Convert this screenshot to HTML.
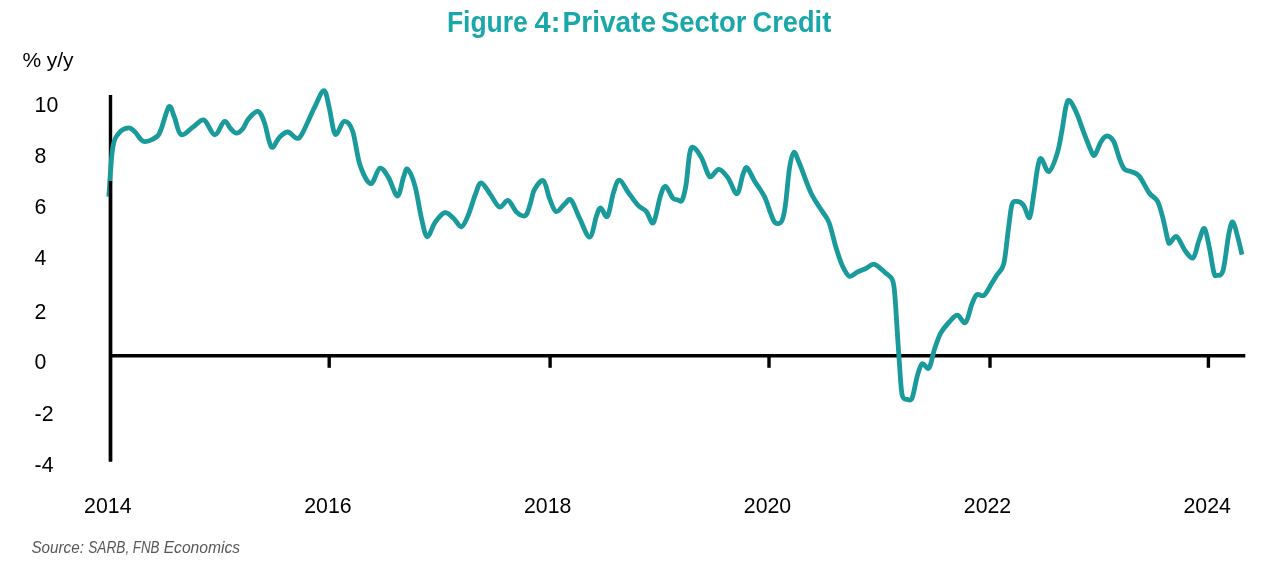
<!DOCTYPE html>
<html><head><meta charset="utf-8">
<style>
html,body{margin:0;padding:0;background:#fff;width:1280px;height:565px;overflow:hidden}
svg{display:block;will-change:transform}
text{font-family:"Liberation Sans",sans-serif}
</style></head>
<body>
<svg width="1280" height="565" viewBox="0 0 1280 565">
<rect width="1280" height="565" fill="#fff"/>
<g font-size="28.8" font-weight="bold" fill="#1aa7a9" lengthAdjust="spacingAndGlyphs">
<text x="446.9" y="31.6" textLength="80.9" lengthAdjust="spacingAndGlyphs">Figure</text>
<text x="534.5" y="31.6" textLength="25.8" lengthAdjust="spacingAndGlyphs">4:</text>
<text x="562.6" y="31.6" textLength="93.4" lengthAdjust="spacingAndGlyphs">Private</text>
<text x="661.0" y="31.6" textLength="85.3" lengthAdjust="spacingAndGlyphs">Sector</text>
<text x="752.6" y="31.6" textLength="78.6" lengthAdjust="spacingAndGlyphs">Credit</text>
</g>
<text x="22.5" y="66.9" font-size="21" fill="#000" textLength="51" lengthAdjust="spacing">% y/y</text>
<g font-size="21.3" fill="#000">
<text x="34.6" y="111.7">10</text>
<text x="34.6" y="162.5">8</text>
<text x="34.6" y="213.5">6</text>
<text x="34.6" y="264.8">4</text>
<text x="34.6" y="318.9">2</text>
<text x="34.6" y="369.3">0</text>
<text x="34.6" y="420.7">-2</text>
<text x="34.6" y="471.9">-4</text>
</g>
<g font-size="21.3" fill="#000" text-anchor="middle">
<text x="107.8" y="512.6">2014</text>
<text x="327.9" y="512.6">2016</text>
<text x="547.7" y="512.6">2018</text>
<text x="767.5" y="512.6">2020</text>
<text x="987.5" y="512.6">2022</text>
<text x="1207.2" y="512.6">2024</text>
</g>
<g stroke="#000" stroke-width="3.4" fill="none">
<line x1="110.5" y1="95" x2="110.5" y2="461.5"/>
<line x1="110.5" y1="355.75" x2="1245.3" y2="355.75"/>
<line x1="329.2" y1="355.7" x2="329.2" y2="367.8"/>
<line x1="550.1" y1="355.7" x2="550.1" y2="367.8"/>
<line x1="769.0" y1="355.7" x2="769.0" y2="367.8"/>
<line x1="990.0" y1="355.7" x2="990.0" y2="367.8"/>
<line x1="1208.4" y1="355.7" x2="1208.4" y2="367.8"/>
</g>
<path d="M108.8,196.8 C109.5,188.7 111.0,158.6 112.7,148.0 C114.4,137.4 116.3,136.4 119.0,133.0 C121.7,129.6 126.0,128.0 128.7,127.8 C131.4,127.6 132.4,129.7 135.0,132.0 C137.6,134.3 140.3,140.8 144.0,141.5 C147.7,142.2 154.1,138.8 157.0,136.5 C159.9,134.2 159.6,132.8 161.6,127.8 C163.6,122.8 166.9,108.4 169.0,106.6 C171.1,104.8 172.4,112.3 174.4,117.0 C176.4,121.7 177.8,132.9 181.0,134.5 C184.2,136.1 189.7,129.1 193.5,126.7 C197.3,124.3 200.5,118.7 204.0,120.0 C207.5,121.3 211.3,134.6 214.7,134.8 C218.1,135.0 221.7,122.5 224.3,121.4 C226.9,120.4 228.5,126.5 230.5,128.5 C232.5,130.5 234.4,133.2 236.5,133.2 C238.6,133.2 241.0,130.9 243.0,128.5 C245.0,126.1 246.0,121.6 248.5,118.8 C251.0,116.0 255.3,110.8 258.0,111.4 C260.6,112.0 262.2,116.6 264.4,122.5 C266.6,128.4 268.9,144.5 271.4,147.0 C273.9,149.5 276.6,139.9 279.3,137.4 C282.0,134.9 284.9,131.9 287.8,132.0 C290.7,132.1 294.1,137.9 296.5,138.2 C298.9,138.5 299.0,139.1 302.0,134.0 C305.0,128.9 310.8,114.8 314.4,107.6 C318.0,100.4 321.4,90.6 323.9,90.6 C326.4,90.6 327.3,100.3 329.2,107.6 C331.1,114.9 332.7,131.9 335.2,134.2 C337.7,136.5 341.2,121.9 344.1,121.4 C347.0,120.9 350.0,123.7 352.6,131.0 C355.2,138.3 357.0,156.2 360.0,165.0 C363.0,173.8 367.4,183.2 370.7,183.7 C374.0,184.2 376.8,169.2 379.8,168.2 C382.8,167.2 385.6,173.0 388.5,177.6 C391.4,182.2 395.0,196.0 397.5,196.0 C400.0,196.0 401.7,182.1 403.4,177.6 C405.1,173.1 405.7,167.7 407.6,169.1 C409.5,170.5 412.7,177.9 415.0,186.1 C417.3,194.2 419.4,209.6 421.4,218.0 C423.4,226.4 424.9,236.0 427.2,236.7 C429.5,237.4 432.3,226.2 435.2,222.2 C438.1,218.2 441.8,213.4 444.8,212.7 C447.8,212.0 450.5,215.7 453.3,218.0 C456.1,220.3 459.0,227.4 461.5,226.8 C464.0,226.2 466.2,220.0 468.5,214.5 C470.8,209.0 473.4,199.2 475.5,194.0 C477.6,188.8 478.7,182.9 481.2,183.0 C483.7,183.1 487.5,190.6 490.5,194.6 C493.5,198.6 496.4,206.0 499.4,207.0 C502.3,208.0 505.4,199.7 508.2,200.5 C511.0,201.3 513.5,209.0 516.0,211.6 C518.5,214.2 521.5,215.7 523.3,216.0 C525.1,216.3 525.8,215.7 527.0,213.5 C528.2,211.3 529.2,207.0 530.5,203.0 C531.8,199.0 532.4,193.2 534.5,189.5 C536.6,185.8 540.9,179.2 543.4,180.8 C545.9,182.4 547.6,193.8 549.7,198.9 C551.8,204.0 553.6,210.7 556.1,211.6 C558.6,212.5 562.1,206.1 564.6,204.2 C567.1,202.3 568.5,197.7 571.0,200.0 C573.5,202.3 576.4,211.8 579.5,218.0 C582.6,224.2 586.9,237.4 589.7,237.1 C592.5,236.8 594.7,220.8 596.5,215.9 C598.3,211.0 598.9,207.7 600.7,207.8 C602.5,207.9 605.4,218.9 607.5,216.3 C609.6,213.8 611.5,198.5 613.5,192.5 C615.5,186.5 616.9,180.2 619.4,180.2 C621.9,180.2 625.2,188.3 628.3,192.5 C631.4,196.7 634.9,202.0 637.9,205.2 C640.9,208.4 643.8,208.7 646.4,211.6 C649.0,214.5 651.1,225.2 653.4,222.7 C655.7,220.2 658.2,202.8 660.2,196.7 C662.2,190.6 663.4,186.1 665.5,186.3 C667.6,186.5 670.7,195.8 672.7,198.0 C674.7,200.2 676.0,199.4 677.5,199.8 C679.0,200.2 680.6,202.8 682.0,200.3 C683.4,197.8 684.7,192.8 686.0,185.0 C687.3,177.2 688.4,159.7 689.7,153.4 C691.0,147.1 691.7,146.7 693.6,147.4 C695.5,148.1 699.0,153.2 701.4,157.6 C703.8,162.0 706.2,170.4 707.8,173.6 C709.4,176.8 709.1,177.4 711.0,176.7 C712.9,176.0 716.2,169.1 719.0,169.3 C721.8,169.5 725.0,173.7 728.0,177.8 C731.0,181.9 734.4,194.2 736.9,193.7 C739.4,193.2 741.2,178.9 742.9,174.6 C744.6,170.3 745.2,166.7 747.1,167.8 C749.0,168.9 751.7,176.3 754.5,181.0 C757.3,185.7 761.4,190.6 764.1,195.9 C766.8,201.2 768.7,208.5 770.5,212.9 C772.3,217.3 773.2,221.1 775.0,222.5 C776.8,223.9 779.8,224.2 781.5,221.5 C783.2,218.8 784.0,214.9 785.3,206.0 C786.6,197.1 788.1,176.9 789.5,168.0 C790.9,159.1 792.1,153.1 793.8,152.3 C795.5,151.6 796.6,156.7 799.5,163.5 C802.4,170.3 807.2,185.1 811.0,193.0 C814.8,200.9 819.0,206.1 822.0,211.0 C825.0,215.9 826.6,216.3 829.0,222.5 C831.4,228.7 833.9,240.8 836.1,248.0 C838.4,255.2 840.3,261.3 842.5,266.0 C844.7,270.7 846.8,275.2 849.3,276.2 C851.8,277.2 854.6,273.3 857.4,272.0 C860.2,270.7 863.1,269.8 865.9,268.5 C868.7,267.2 871.2,263.6 874.4,264.3 C877.6,265.0 882.0,269.9 885.0,272.5 C888.0,275.1 890.8,276.2 892.4,279.9 C894.0,283.6 894.0,286.1 894.8,294.8 C895.6,303.5 896.5,319.6 897.3,332.0 C898.1,344.4 899.0,358.7 899.8,369.2 C900.6,379.7 901.0,390.2 902.2,395.2 C903.4,400.2 905.5,399.0 907.2,399.4 C908.9,399.8 910.6,401.5 912.2,397.7 C913.9,393.9 915.5,382.3 917.1,376.6 C918.8,370.9 920.1,365.1 922.1,363.7 C924.1,362.3 926.9,370.4 929.0,368.0 C931.1,365.6 932.5,355.1 934.5,349.3 C936.5,343.5 938.2,337.8 940.7,333.2 C943.2,328.6 946.5,325.0 949.3,322.0 C952.1,319.0 954.6,315.0 957.3,315.1 C960.0,315.2 963.1,324.3 965.5,322.6 C967.9,320.9 969.9,309.3 971.7,304.7 C973.6,300.1 974.6,296.4 976.6,294.8 C978.6,293.2 981.6,297.1 984.0,295.3 C986.4,293.6 989.1,287.7 991.2,284.3 C993.4,280.9 994.8,278.6 996.9,275.1 C999.0,271.7 1001.9,271.3 1003.8,263.6 C1005.7,255.9 1007.0,238.8 1008.4,229.0 C1009.8,219.2 1010.5,209.5 1011.9,204.9 C1013.2,200.3 1014.6,201.4 1016.5,201.4 C1018.4,201.4 1021.2,202.2 1023.4,204.9 C1025.6,207.6 1027.9,219.2 1029.6,217.5 C1031.3,215.8 1032.3,202.9 1033.7,194.5 C1035.1,186.1 1036.5,172.8 1037.8,166.8 C1039.1,160.8 1039.4,157.8 1041.3,158.6 C1043.2,159.4 1046.2,172.5 1048.9,171.6 C1051.6,170.7 1055.1,160.1 1057.3,153.1 C1059.5,146.1 1060.6,137.6 1062.1,129.8 C1063.5,122.0 1064.8,111.3 1066.0,106.4 C1067.2,101.5 1067.7,99.5 1069.5,100.6 C1071.3,101.7 1074.4,108.0 1076.7,113.2 C1079.0,118.4 1081.2,125.7 1083.5,131.7 C1085.8,137.7 1088.6,145.4 1090.4,149.3 C1092.2,153.2 1092.8,156.4 1094.6,155.1 C1096.4,153.8 1099.0,144.7 1101.1,141.5 C1103.1,138.3 1104.8,136.0 1106.9,136.0 C1109.0,136.0 1111.6,137.7 1113.7,141.5 C1115.8,145.3 1117.8,154.4 1119.6,159.0 C1121.4,163.6 1122.5,167.0 1124.4,169.1 C1126.3,171.2 1128.7,170.4 1131.2,171.6 C1133.7,172.8 1136.2,172.5 1139.2,176.1 C1142.2,179.7 1146.4,189.1 1149.5,193.3 C1152.6,197.5 1155.3,197.0 1157.6,201.4 C1159.9,205.8 1161.6,213.3 1163.3,219.8 C1165.0,226.3 1166.8,236.7 1167.9,240.5 C1169.1,244.3 1168.7,243.5 1170.2,242.8 C1171.7,242.2 1174.2,235.3 1176.7,236.6 C1179.2,237.9 1182.5,247.3 1185.2,250.8 C1188.0,254.3 1190.9,259.4 1193.2,257.7 C1195.5,256.0 1197.1,245.4 1199.0,240.5 C1200.9,235.6 1202.8,227.3 1204.5,228.5 C1206.2,229.7 1207.7,240.1 1209.3,247.4 C1210.9,254.8 1212.6,267.9 1213.9,272.6 C1215.2,277.3 1215.4,275.8 1216.9,275.4 C1218.4,275.0 1221.1,277.3 1223.1,270.3 C1225.1,263.3 1227.2,241.7 1228.9,233.6 C1230.6,225.5 1231.5,221.2 1233.0,222.0 C1234.5,222.8 1236.5,232.8 1238.0,238.2 C1239.5,243.6 1241.3,251.9 1242.0,254.7" fill="none" stroke="#1a9a9b" stroke-width="4.8" stroke-linejoin="round" stroke-linecap="butt"/>
<line x1="110.5" y1="181" x2="110.5" y2="461.5" stroke="#000" stroke-width="3.4"/>
<g font-size="17" font-style="italic" fill="#585858">
<text x="31.4" y="553" textLength="52.5" lengthAdjust="spacingAndGlyphs">Source:</text>
<text x="88.2" y="553" textLength="41.1" lengthAdjust="spacingAndGlyphs">SARB,</text>
<text x="132.7" y="553" textLength="26.9" lengthAdjust="spacingAndGlyphs">FNB</text>
<text x="163.7" y="553" textLength="76.4" lengthAdjust="spacingAndGlyphs">Economics</text>
</g>
</svg>
</body></html>
